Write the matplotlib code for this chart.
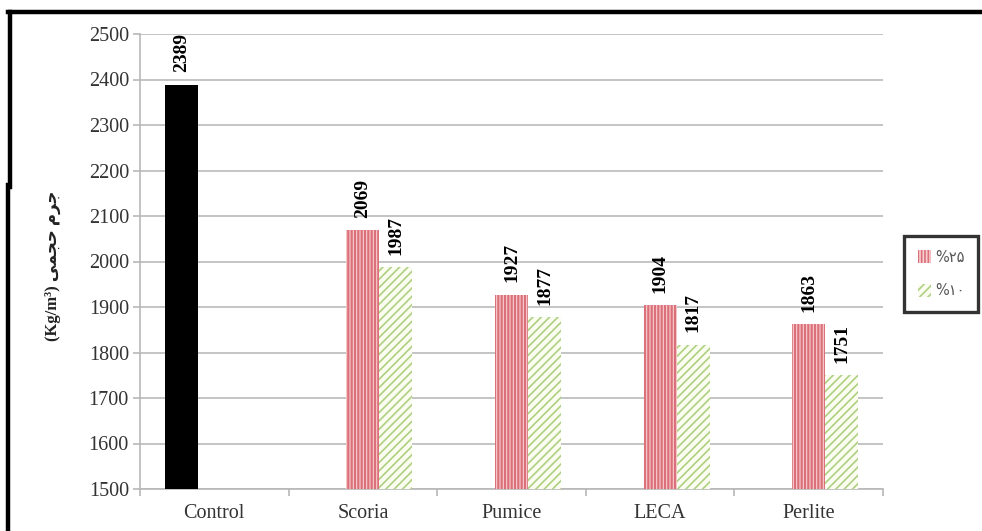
import numpy as np
import matplotlib
matplotlib.use('Agg')
from matplotlib import pyplot as plt
from matplotlib.lines import Line2D

# data
categories = ['Control', 'Scoria', 'Pumice', 'LECA', 'Perlite']
control = [2389, np.nan, np.nan, np.nan, np.nan]
mix_25 = [np.nan, 2069, 1927, 1904, 1863]
mix_10 = [np.nan, 1987, 1877, 1817, 1751]
legend_labels = ['%\u06f2\u06f5', '%\u06f1\u06f0']
# "(Kg/m3) jerm-e hajmi", persian letters given in presentation forms, visual order
ylabel_text = '(Kg/m\u00b3) \ufbfd\ufee4\ufea0\ufea3 \ufee1\ufeae\ufe9f'
yticks = np.arange(1500, 2501, 100)

plt.rcParams['font.family'] = ['Liberation Serif', 'DejaVu Sans']

fig = plt.figure(figsize=(9.82, 5.31), dpi=100)
ax = fig.add_axes([140/982, 1-489/531, 743/982, 455/531])

x = np.arange(len(categories))
w = 0.222
grey = '#b8b8b8'

ax.bar(x - w, control, w, color='black', zorder=3)
plt.rcParams['hatch.linewidth'] = 1.6
b1 = ax.bar(x, mix_25, w, facecolor='#f7cfd1', edgecolor='#dc707a',
            hatch='|||||', linewidth=0, zorder=3)
plt.rcParams['hatch.linewidth'] = 1.2
b2 = ax.bar(x + w, mix_10, w, facecolor='#fbfdf0', edgecolor='#add083',
            hatch='////', linewidth=0, zorder=3)

# value labels above bars
def label(vals, off):
    for xi, v in zip(x, vals):
        if np.isnan(v):
            continue
        ax.text(xi + off, v + 27, str(v), rotation=90, ha='center', va='bottom',
                fontsize=14, fontweight='bold', color='black', zorder=4)

label(control, -w)
label(mix_25, 0)
label(mix_10, w)

ax.set_ylim(1500, 2500)
ax.set_xlim(-0.5, len(categories) - 0.5)
ax.set_yticks(yticks)
ax.set_yticklabels([str(t) for t in yticks], fontsize=14.5, color='#333333')
ax.set_xticks(x)
ax.set_xticklabels(categories, fontsize=14.5, color='#333333')
ax.set_xticks(np.arange(-0.5, len(categories)), minor=True)
ax.tick_params(axis='x', which='major', length=0, pad=11)
ax.tick_params(axis='x', which='minor', length=5, color=grey, width=1.2)
ax.tick_params(axis='y', length=5, color=grey, width=1.2, pad=3)

ax.yaxis.grid(True, color='#c4c4c4', linewidth=1.4, zorder=0)
ax.set_axisbelow(True)
for s in ['top', 'right']:
    ax.spines[s].set_visible(False)
ax.spines['left'].set_color(grey)
ax.spines['bottom'].set_color(grey)
ax.spines['left'].set_linewidth(1.2)
ax.spines['bottom'].set_linewidth(1.2)

fig.text(53/982, 1-266/531, ylabel_text, rotation=90, ha='center', va='center',
         fontsize=12, fontweight='bold', color='#222222',
         family=['Liberation Serif', 'DejaVu Sans'])

leg = fig.legend([b1, b2], legend_labels, loc='center',
                 bbox_to_anchor=(941/982, 1-274/531),
                 frameon=True, fancybox=False, handlelength=0.9, handleheight=1.0,
                 handletextpad=0.3, borderpad=0.9, labelspacing=1.3,
                 prop={'family': ['DejaVu Sans'], 'size': 10.5})
leg.get_frame().set_edgecolor('black')
leg.get_frame().set_linewidth(2.4)
for t in leg.get_texts():
    t.set_color('#555555')

# outer frame lines
fig.add_artist(Line2D([8/982, 1], [1-12/531, 1-12/531], color='black', lw=3.2))
fig.add_artist(Line2D([10/982, 10/982], [1-12/531, 1-187/531], color='black', lw=3.2))
fig.add_artist(Line2D([8/982, 8/982], [1-185/531, 0], color='black', lw=3.2))

fig.savefig('out.png', dpi=100, facecolor='white')
